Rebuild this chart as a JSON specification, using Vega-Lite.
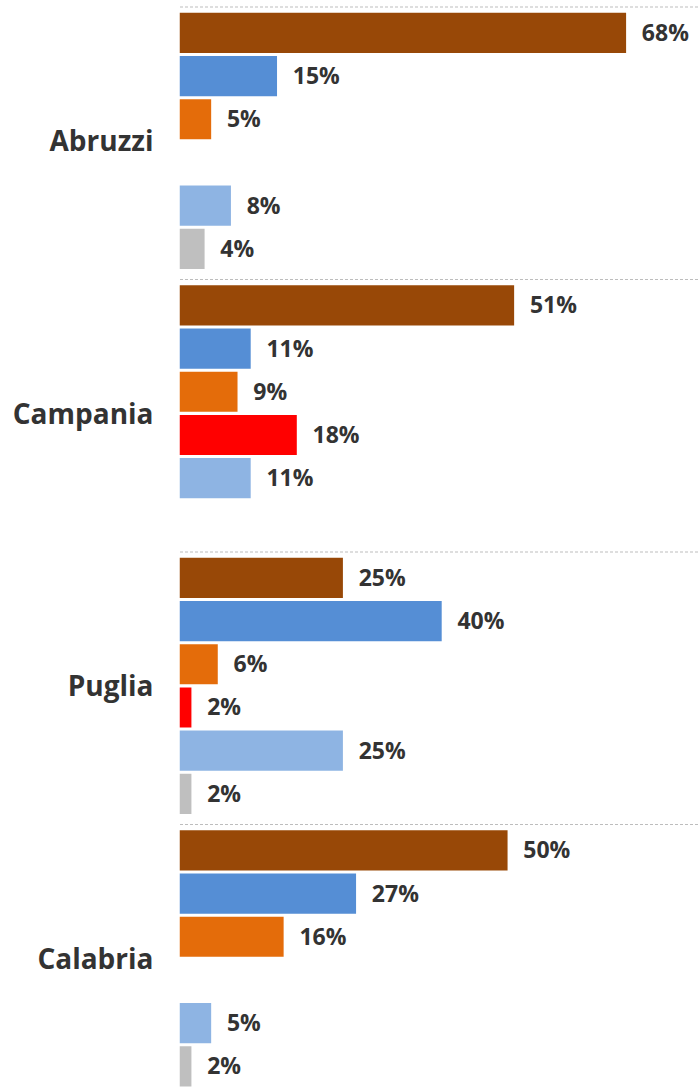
{
  "$schema": "https://vega.github.io/schema/vega-lite/v6.json",
  "width": 519,
  "height": 1090,
  "padding": {"left": 0, "top": 6, "right": 0, "bottom": 0},
  "background": "white",
  "config": {"view": {"stroke": null}, "font": "Open Sans"},
  "datasets": {
    "bars": [
      {"region": "Abruzzi", "cat": "A", "value": 0.68},
      {"region": "Abruzzi", "cat": "B", "value": 0.15},
      {"region": "Abruzzi", "cat": "C", "value": 0.05},
      {"region": "Abruzzi", "cat": "E", "value": 0.08},
      {"region": "Abruzzi", "cat": "F", "value": 0.04},
      {"region": "Campania", "cat": "A", "value": 0.51},
      {"region": "Campania", "cat": "B", "value": 0.11},
      {"region": "Campania", "cat": "C", "value": 0.09},
      {"region": "Campania", "cat": "D", "value": 0.18},
      {"region": "Campania", "cat": "E", "value": 0.11},
      {"region": "Puglia", "cat": "A", "value": 0.25},
      {"region": "Puglia", "cat": "B", "value": 0.40},
      {"region": "Puglia", "cat": "C", "value": 0.06},
      {"region": "Puglia", "cat": "D", "value": 0.02},
      {"region": "Puglia", "cat": "E", "value": 0.25},
      {"region": "Puglia", "cat": "F", "value": 0.02},
      {"region": "Calabria", "cat": "A", "value": 0.50},
      {"region": "Calabria", "cat": "B", "value": 0.27},
      {"region": "Calabria", "cat": "C", "value": 0.16},
      {"region": "Calabria", "cat": "E", "value": 0.05},
      {"region": "Calabria", "cat": "F", "value": 0.02}
    ],
    "regions": [
      {"region": "Abruzzi"},
      {"region": "Campania"},
      {"region": "Puglia"},
      {"region": "Calabria"}
    ]
  },
  "layer": [
    {
      "data": {"name": "regions"},
      "mark": {"type": "rule", "stroke": "#bdbdbd", "strokeDash": [3, 2], "strokeWidth": 1},
      "encoding": {
        "y": {"field": "region", "type": "nominal", "bandPosition": 0, "sort": ["Abruzzi", "Campania", "Puglia", "Calabria"]}
      }
    },
    {
      "data": {"name": "bars"},
      "mark": {"type": "bar", "stroke": "white", "strokeWidth": 1.5},
      "encoding": {
        "y": {
          "field": "region", "type": "nominal",
          "sort": ["Abruzzi", "Campania", "Puglia", "Calabria"],
          "scale": {"paddingInner": 0, "paddingOuter": 0},
          "axis": {"title": null, "domain": false, "ticks": false, "grid": false, "labelFontSize": 28, "labelFontWeight": "bold", "labelColor": "#333333", "labelPadding": 26, "minExtent": 179, "maxExtent": 179}
        },
        "yOffset": {
          "field": "cat", "type": "nominal",
          "sort": ["A", "B", "C", "D", "E", "F"],
          "scale": {"domain": ["A", "B", "C", "D", "E", "F"], "paddingInner": 0.035, "paddingOuter": 0.1715, "align": 0.34}
        },
        "x": {"field": "value", "type": "quantitative", "scale": {"domain": [0, 0.788], "nice": false}, "axis": null},
        "color": {
          "field": "cat", "type": "nominal", "legend": null,
          "scale": {"domain": ["A", "B", "C", "D", "E", "F"], "range": ["#984807", "#558ED5", "#E46C0A", "#FF0000", "#8EB4E3", "#BFBFBF"]}
        }
      }
    },
    {
      "data": {"name": "bars"},
      "mark": {"type": "text", "align": "left", "baseline": "middle", "dx": 15, "dy": 1, "fontSize": 23, "fontWeight": "bold", "color": "#333333"},
      "encoding": {
        "y": {"field": "region", "type": "nominal", "sort": ["Abruzzi", "Campania", "Puglia", "Calabria"]},
        "yOffset": {"field": "cat", "type": "nominal", "sort": ["A", "B", "C", "D", "E", "F"]},
        "x": {"field": "value", "type": "quantitative"},
        "text": {"field": "value", "type": "quantitative", "format": ".0%"}
      }
    }
  ]
}
